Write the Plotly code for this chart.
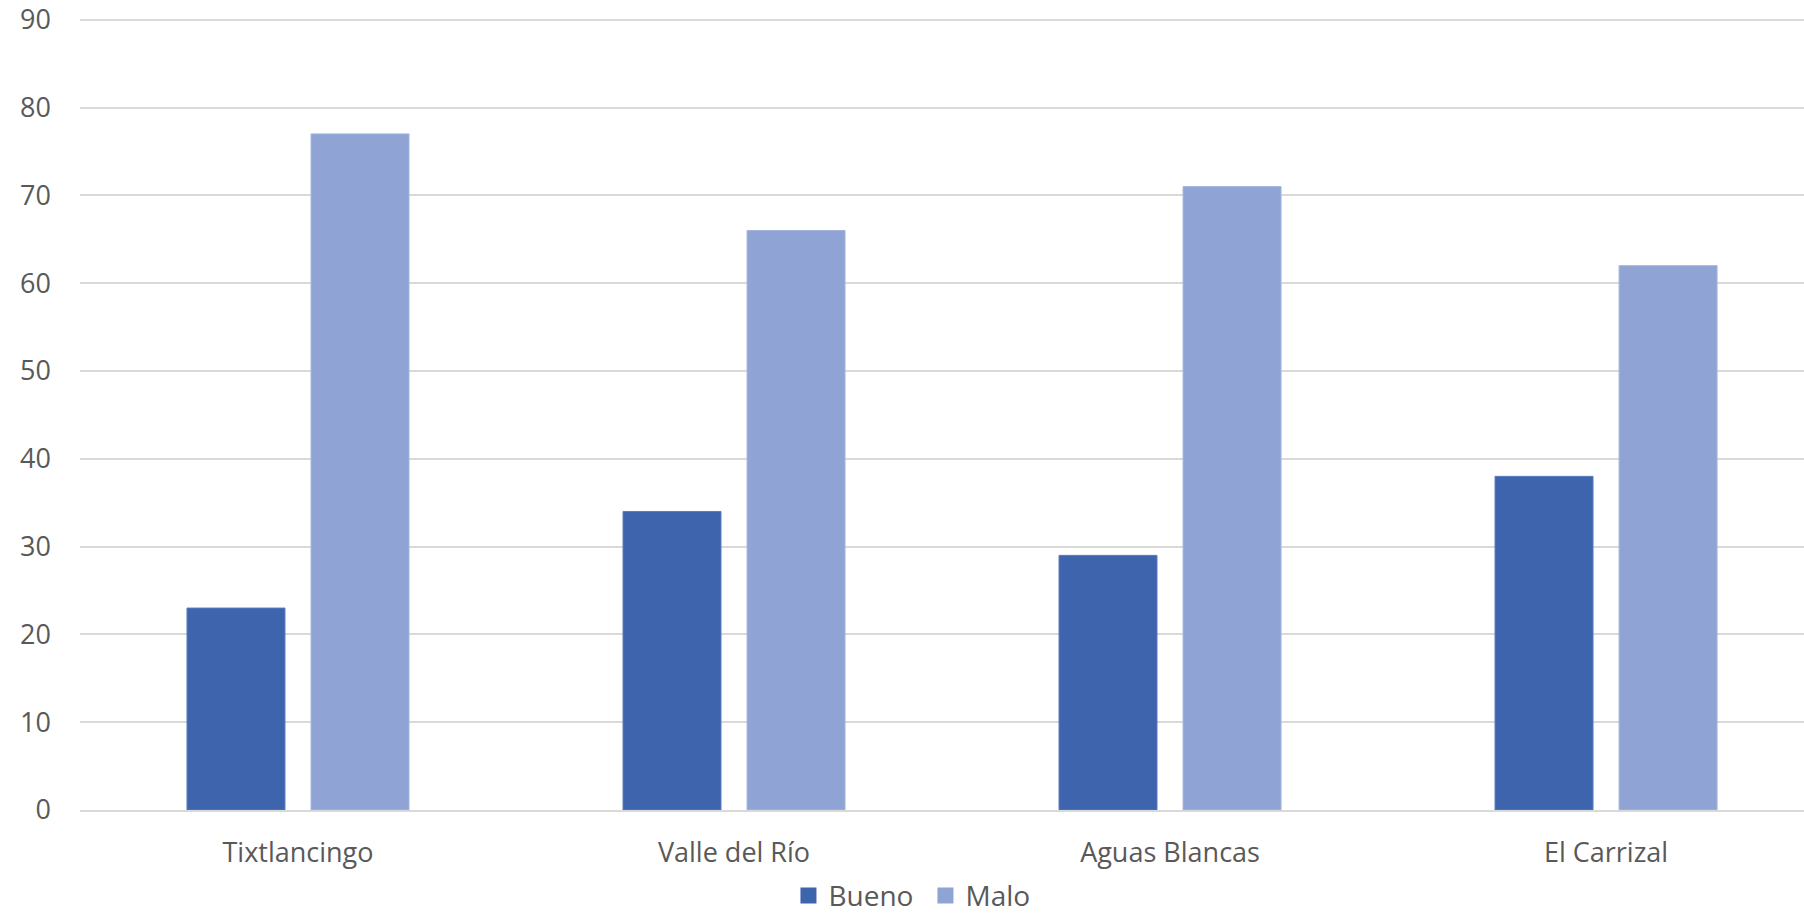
import plotly.graph_objects as go

# Survey results per community
communities = ["Tixtlancingo", "Valle del Río", "Aguas Blancas", "El Carrizal"]
bueno = [23, 34, 29, 38]
malo = [77, 66, 71, 62]
y_ticks = [0, 10, 20, 30, 40, 50, 60, 70, 80, 90]

COLOR_BUENO = "#3D64AD"
COLOR_MALO = "#8FA4D4"
TEXT = "#595959"
GRID = "#D9D9D9"
FONT = "Open Sans"

fig = go.Figure()
fig.add_trace(go.Bar(name="Bueno", x=communities, y=bueno,
                     marker=dict(color=COLOR_BUENO, line=dict(color="#5A7DBD", width=1)),
                     showlegend=False))
fig.add_trace(go.Bar(name="Malo", x=communities, y=malo,
                     marker=dict(color=COLOR_MALO, line=dict(color="#A5B6DE", width=1)),
                     showlegend=False))

# Legend entries with larger square swatches
for name, col in [("Bueno", COLOR_BUENO), ("Malo", COLOR_MALO)]:
    fig.add_trace(go.Scatter(name=name, x=[None], y=[None], mode="markers",
                             marker=dict(symbol="square", size=18, color=col)))

fig.update_layout(
    width=1804, height=914,
    margin=dict(l=80, r=0, t=5, b=104),
    paper_bgcolor="white", plot_bgcolor="white",
    font=dict(family=FONT, size=28, color=TEXT),
    barmode="group", bargap=0.431, bargroupgap=0.21,
    legend=dict(orientation="h", xref="container", yref="container",
                x=0.513, y=0.02, xanchor="center", yanchor="middle",
                font=dict(family=FONT, size=28, color=TEXT),
                itemsizing="trace", itemwidth=30, tracegroupgap=0,
                entrywidth=92, entrywidthmode="pixels"),
    xaxis=dict(range=[-0.5, 3.454], showgrid=False, showline=True,
               linecolor=GRID, linewidth=2, ticks="", ticklabelstandoff=18,
               tickfont=dict(family=FONT, size=27, color=TEXT)),
    yaxis=dict(range=[0, 91], tickvals=y_ticks, showgrid=True, gridcolor=GRID,
               gridwidth=1.5, zeroline=False, showline=False, ticks="",
               ticklabelstandoff=28, ticklabeloverflow="allow",
               tickfont=dict(family=FONT, size=27, color=TEXT)),
)

fig.write_html("out.html")
